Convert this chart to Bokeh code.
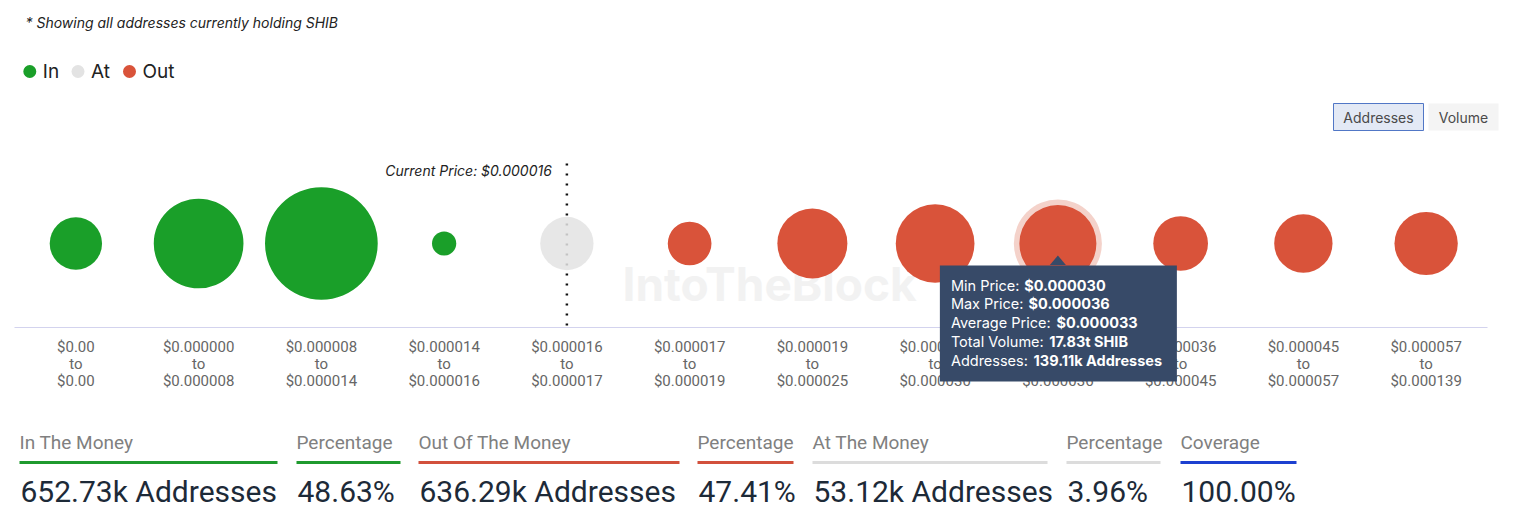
import numpy as np
from bokeh.plotting import figure
from bokeh.layouts import column
from bokeh.models import (Range1d, FixedTicker, Label, BoxAnnotation, PolyAnnotation,
                          ColumnDataSource)
from bokeh.core.properties import value
from bokeh.embed import file_html
from bokeh.resources import INLINE

# ---------------- data ----------------
range_min = ["$0.00", "$0.000000", "$0.000008", "$0.000014", "$0.000016", "$0.000017",
             "$0.000019", "$0.000025", "$0.000030", "$0.000036", "$0.000045", "$0.000057"]
range_max = ["$0.00", "$0.000008", "$0.000014", "$0.000016", "$0.000017", "$0.000019",
             "$0.000025", "$0.000030", "$0.000036", "$0.000045", "$0.000057", "$0.000139"]
money_status = ["In", "In", "In", "In", "At", "Out", "Out", "Out", "Out", "Out", "Out", "Out"]
addresses_k = [50.3, 201.8, 345.1, 3.1, 53.12, 29.8, 109.4, 146.7, 139.11, 57.0, 67.8, 84.4]

current_price = "$0.000016"
current_bucket = 4
hover_bucket = 8
tooltip_keys = ["Min Price: ", "Max Price: ", "Average Price: ", "Total Volume: ", "Addresses: "]
tooltip_vals = ["$0.000030", "$0.000036", "$0.000033", "17.83t SHIB", "139.11k Addresses"]

legend_labels = ["In", "At", "Out"]
summary_headers = ["In The Money", "Percentage", "Out Of The Money", "Percentage",
                   "At The Money", "Percentage", "Coverage"]
summary_values = ["652.73k Addresses", "48.63%", "636.29k Addresses", "47.41%",
                  "53.12k Addresses", "3.96%", "100.00%"]
summary_groups = ["In", "In", "Out", "Out", "At", "At", "Coverage"]

# ---------------- styles ----------------
STATUS_COLORS = {"In": "#1a9f29", "At": "#e3e3e3", "Out": "#d9533a"}
UNDERLINE_COLORS = {"In": "#1f9a2e", "At": "#dcdcdc", "Out": "#d2503c", "Coverage": "#1c40d0"}
FONT = "Inter"
W = 1514

# ---------------- header ----------------
hdr = figure(width=W, height=138, x_range=Range1d(-8, W - 8), y_range=Range1d(130, -8),
             x_axis_type=None, y_axis_type=None, min_border=0,
             toolbar_location=None, output_backend="svg")
hdr.outline_line_color = None
hdr.grid.visible = False
hdr.text(x=[17], y=[14], text=["* Showing all addresses currently holding SHIB"],
         text_font=value(FONT), text_font_style="italic", text_font_size="14px",
         text_color="#222222", text_baseline="middle")
leg_x = [21.3, 69.5, 121.0]
hdr.scatter(x=leg_x, y=[63] * 3, size=13,
            fill_color=[STATUS_COLORS[s] for s in legend_labels], line_color=None)
hdr.text(x=[x + 13 for x in leg_x], y=[63] * 3, text=legend_labels,
         text_font=value(FONT), text_font_size="19px", text_color="#222222",
         text_baseline="middle")
hdr.quad(left=[1325], right=[1415], top=[95], bottom=[122],
         fill_color="#e3e9f5", line_color="#5177c6", line_width=1)
hdr.quad(left=[1420], right=[1490], top=[95], bottom=[122],
         fill_color="#f4f4f4", line_color=None)
hdr.text(x=[1370, 1455], y=[108.5, 108.5], text=["Addresses", "Volume"],
         text_font=value(FONT), text_font_size="14px", text_color="#4a4a4a",
         text_align="center", text_baseline="middle")

# ---------------- bubble chart ----------------
N = len(range_min)
PX = 1473 / float(N)          # pixels per bucket
ch = figure(width=W, height=262,
            x_range=Range1d(-0.5 - 14 / PX, N - 0.5 + 27 / PX), y_range=Range1d(-71, 189),
            y_axis_type=None, min_border_left=0, min_border_right=0,
            min_border_top=0, min_border_bottom=2,
            toolbar_location=None, output_backend="svg")
ch.outline_line_color = None
ch.grid.visible = False
ax = ch.xaxis[0]
ax.ticker = FixedTicker(ticks=list(range(N)))
ax.major_label_overrides = {i: f"{a}\nto\n{b}" for i, (a, b) in enumerate(zip(range_min, range_max))}
ax.axis_line_color = None
ax.major_tick_line_color = None
ax.minor_tick_line_color = None
ax.major_tick_out = 0
ax.major_tick_in = 0
ax.minor_tick_out = 0
ax.minor_tick_in = 0
ax.major_label_text_font = "Roboto"
ax.major_label_text_font_size = "15px"
ax.major_label_text_color = "#666666"
ax.major_label_standoff = -61
ax.major_label_text_line_height = 0.97

# baseline of the chart across the bucket extent
ch.segment(x0=[-0.5], x1=[N - 0.5], y0=[0], y1=[0], line_color="#d3d3ee", line_width=1.2)

# watermark
ch.text(x=[(622 - 14) / PX - 0.5], y=[44], text=["IntoTheBlock"],
        text_font=value(FONT), text_font_style="bold", text_font_size="46px",
        text_color="#f2f2f2", text_baseline="middle")

BY = 84
ch.segment(x0=[current_bucket], x1=[current_bucket], y0=[2], y1=[165],
           line_color="#111111", line_width=2.5, line_dash="2 8")
ch.text(x=[current_bucket], y=[157], text=[f"Current Price: {current_price}"], x_offset=-15,
        text_font=value(FONT), text_font_style="italic", text_font_size="14px",
        text_color="#222222", text_align="right", text_baseline="middle")

src = ColumnDataSource(dict(
    x=list(range(N)),
    y=[BY] * N,
    size=[15 + 5.26 * np.sqrt(v) for v in addresses_k],
    color=[STATUS_COLORS[s] for s in money_status],
    alpha=[0.85 if s == "At" else 1.0 for s in money_status],
))
ch.scatter(x=[hover_bucket], y=[BY], size=[15 + 5.26 * np.sqrt(addresses_k[hover_bucket]) + 11],
           fill_color="#f4d2ca", line_color=None)
ch.scatter(x="x", y="y", size="size", fill_color="color", fill_alpha="alpha",
           line_color=None, source=src)

# tooltip
cx = hover_bucket
TIP = "#374a68"
ch.add_layout(BoxAnnotation(left=cx - 118 / PX, right=cx + 119 / PX, top=62, bottom=-54,
                            fill_color=TIP, fill_alpha=1, line_color=None, level="overlay"))
ch.add_layout(PolyAnnotation(xs=[cx - 8 / PX, cx, cx + 8 / PX], ys=[62.5, 72, 62.5],
                             fill_color=TIP, fill_alpha=1, line_color=None, level="overlay"))
line_y = [42, 24, 5, -14, -33]
val_off = [-33.7, -29.3, -1.3, -8.7, -24.3]
for k, v, yy, off in zip(tooltip_keys, tooltip_vals, line_y, val_off):
    ch.add_layout(Label(x=cx, y=yy, x_offset=-107, text=k, text_font=FONT,
                        text_font_size="14.5px", text_color="#ffffff",
                        text_baseline="middle", level="overlay"))
    ch.add_layout(Label(x=cx, y=yy, x_offset=off, text=v, text_font=FONT,
                        text_font_size="14.5px", text_font_style="bold", text_color="#ffffff",
                        text_baseline="middle", level="overlay"))

# ---------------- summary ----------------
sm = figure(width=W, height=121, x_range=Range1d(-8, W - 8), y_range=Range1d(121, 0),
            x_axis_type=None, y_axis_type=None, min_border=0,
            toolbar_location=None, output_backend="svg")
sm.outline_line_color = None
sm.grid.visible = False
col_left = [11, 288, 410, 689, 804, 1058, 1172]
col_right = [269, 392, 671, 785, 1039, 1152, 1288]
sm.text(x=col_left, y=[42] * 7, text=summary_headers, text_font=value("Roboto"),
        text_font_size="19px", text_color="#808080", text_baseline="middle")
sm.segment(x0=col_left, x1=col_right, y0=[62] * 7, y1=[62] * 7,
           line_color=[UNDERLINE_COLORS[g] for g in summary_groups], line_width=3)
sm.text(x=[x + 1 for x in col_left], y=[91] * 7, text=summary_values, text_font=value("Roboto"),
        text_font_size="30px", text_color="#1d2a38", text_baseline="middle")

layout = column(hdr, ch, sm, spacing=0)
open("out.html", "w").write(file_html(layout, INLINE))
